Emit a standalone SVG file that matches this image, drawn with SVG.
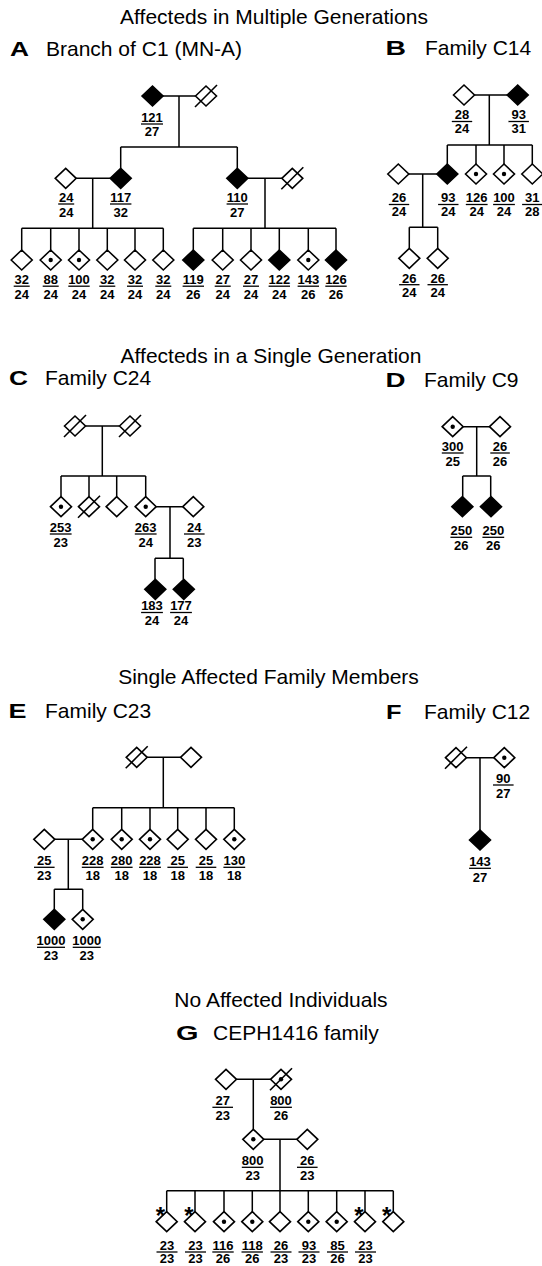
<svg xmlns="http://www.w3.org/2000/svg" xmlns:xlink="http://www.w3.org/1999/xlink" width="542" height="1266" viewBox="0 0 542 1266">
<style>
.t{font-family:"Liberation Sans",Arial,sans-serif;font-size:21px;fill:#000}
.tm{text-anchor:middle}
.pl{font-family:"Liberation Sans",Arial,sans-serif;font-size:20px;font-weight:bold;fill:#000}
.ln{stroke:#000;stroke-width:1.5;fill:none}
.o{fill:#fff;stroke:#000;stroke-width:1.6}
.f{fill:#000;stroke:#000;stroke-width:1.6}
.n{font-family:"Liberation Sans",Arial,sans-serif;font-size:13px;font-weight:bold;text-anchor:middle;fill:#000}
.fl{stroke:#000;stroke-width:1.3;fill:none}
.ast{font-family:"Liberation Sans",Arial,sans-serif;font-size:24px;font-weight:bold;text-anchor:middle;fill:#000}
</style>
<defs>
<path id="dm" d="M-10.5 0L0-10L10.5 0L0 10Z"/>
<g id="dot"><use xlink:href="#dm" href="#dm"/><circle r="2.2" fill="#000" stroke="none"/></g>
<g id="dec"><use xlink:href="#dm" href="#dm"/><path d="M-11 11L11-11" fill="none"/></g>
<g id="decdot"><use xlink:href="#dm" href="#dm"/><circle r="2.2" fill="#000" stroke="none"/><path d="M-11 11L11-11" fill="none"/></g>
</defs>
<rect width="542" height="1266" fill="#fff"/>

<!-- titles -->
<g id="titles">
<text class="t tm" x="274" y="24">Affecteds in Multiple Generations</text>
<text class="t tm" x="271" y="363">Affecteds in a Single Generation</text>
<text class="t tm" x="268.5" y="684">Single Affected Family Members</text>
<text class="t tm" x="281" y="1006.5">No Affected Individuals</text>
<text class="pl" x="10" y="56" textLength="19" lengthAdjust="spacingAndGlyphs">A</text>
<text class="t" x="46" y="56">Branch of C1 (MN-A)</text>
<text class="pl" x="385.5" y="55" textLength="20.5" lengthAdjust="spacingAndGlyphs">B</text>
<text class="t" x="425" y="55">Family C14</text>
<text class="pl" x="9" y="385" textLength="19" lengthAdjust="spacingAndGlyphs">C</text>
<text class="t" x="45" y="385">Family C24</text>
<text class="pl" x="385.5" y="386.5" textLength="20" lengthAdjust="spacingAndGlyphs">D</text>
<text class="t" x="424" y="386.5">Family C9</text>
<text class="pl" x="8.5" y="718.3" textLength="18" lengthAdjust="spacingAndGlyphs">E</text>
<text class="t" x="45" y="718.3">Family C23</text>
<text class="pl" x="386" y="719.3" textLength="15.5" lengthAdjust="spacingAndGlyphs">F</text>
<text class="t" x="424" y="719.3">Family C12</text>
<text class="pl" x="176" y="1040" textLength="22.5" lengthAdjust="spacingAndGlyphs">G</text>
<text class="t" x="213" y="1040">CEPH1416 family</text>
</g>

<!-- connectors -->
<g id="connectors" class="ln">
<!-- A -->
<path d="M163 96H195.5M179 96V147M120.7 147H237.3M120.7 147V168.3M237.3 147V168.3"/>
<path d="M76.2 178.3H110.2M92.7 178.3V228.3M21.7 228.3H163.3M21.7 228.3V250M50.7 228.3V250M79 228.3V250M107.3 228.3V250M135 228.3V250M163.3 228.3V250"/>
<path d="M247.8 178.3H281.8M265 178.3V228.3M193.3 228.3H336M193.3 228.3V250M222.7 228.3V250M251 228.3V250M279.3 228.3V250M308.3 228.3V250M336 228.3V250"/>
<!-- B -->
<path d="M474.5 95H507.2M489.3 95V145M447.3 145H532.3M447.3 145V164M476 145V164M504 145V164M532.3 145V164"/>
<path d="M408.8 174H436.8M422.7 174V227.3M409.3 227.3H437.7M409.3 227.3V248.3M437.7 227.3V248.3"/>
<!-- C -->
<path d="M85.5 426H119.5M102.3 426V476M61 476H145.7M61 476V496.7M89 476V496.7M116.7 476V496.7M145.7 476V496.7"/>
<path d="M156.2 506.7H182.8M170 506.7V558.3M155 558.3H183.3M155 558.3V579.3M183.3 558.3V579.3"/>
<!-- D -->
<path d="M463.2 426.7H489.5M476.7 426.7V476M462.7 476H490.7M462.7 476V496.7M490.7 476V496.7"/>
<!-- E -->
<path d="M147.2 757.3H180.5M163.3 757.3V807.7M92.7 807.7H234.3M92.7 807.7V829.3M121.7 807.7V829.3M150 807.7V829.3M177.7 807.7V829.3M206 807.7V829.3M234.3 807.7V829.3"/>
<path d="M54.8 839.3H82.2M68.3 839.3V889.3M54.3 889.3H82.7M54.3 889.3V909.3M82.7 889.3V909.3"/>
<!-- F -->
<path d="M466.5 757.7H493.8M480 757.7V830"/>
<!-- G -->
<path d="M236.5 1079.3H270.5M253.3 1079.3V1129.3"/>
<path d="M263.8 1139.3H296.8M280 1139.3V1190.7M166.7 1190.7H393.3M166.7 1190.7V1211.7M195 1190.7V1211.7M224 1190.7V1211.7M252.3 1190.7V1211.7M280 1190.7V1211.7M308.3 1190.7V1211.7M336.7 1190.7V1211.7M365 1190.7V1211.7M393.3 1190.7V1211.7"/>
</g>

<!-- Panel A -->
<g id="A-I1"><use href="#dm" class="f" x="152.5" y="96"/><text class="n" x="152" y="121.7">121</text><path class="fl" d="M141 124H163"/><text class="n" x="152" y="135.7">27</text></g>
<g id="A-I2"><use href="#dec" class="o" x="206" y="96"/></g>
<g id="A-II1"><use href="#dm" class="o" x="65.7" y="178.3"/><text class="n" x="66.2" y="201.7">24</text><path class="fl" d="M58.2 204H74.2"/><text class="n" x="66.2" y="216.7">24</text></g>
<g id="A-II2"><use href="#dm" class="f" x="120.7" y="178.3"/><text class="n" x="120.7" y="201.7">117</text><path class="fl" d="M110 204H131.4"/><text class="n" x="120.7" y="216.7">32</text></g>
<g id="A-II3"><use href="#dm" class="f" x="237.3" y="178.3"/><text class="n" x="237.3" y="201.7">110</text><path class="fl" d="M226.6 204H248"/><text class="n" x="237.3" y="216.7">27</text></g>
<g id="A-II4"><use href="#dec" class="o" x="292.3" y="178.3"/></g>
<g id="A-III1"><use href="#dm" class="o" x="21.7" y="260"/><text class="n" x="21.7" y="284">32</text><path class="fl" d="M13.7 286.2H29.7"/><text class="n" x="21.7" y="299">24</text></g>
<g id="A-III2"><use href="#dot" class="o" x="50.7" y="260"/><text class="n" x="50.7" y="284">88</text><path class="fl" d="M42.7 286.2H58.7"/><text class="n" x="50.7" y="299">24</text></g>
<g id="A-III3"><use href="#dot" class="o" x="79" y="260"/><text class="n" x="79" y="284">100</text><path class="fl" d="M68.3 286.2H89.7"/><text class="n" x="79" y="299">24</text></g>
<g id="A-III4"><use href="#dm" class="o" x="107.3" y="260"/><text class="n" x="107.3" y="284">32</text><path class="fl" d="M99.3 286.2H115.3"/><text class="n" x="107.3" y="299">24</text></g>
<g id="A-III5"><use href="#dm" class="o" x="135" y="260"/><text class="n" x="135" y="284">32</text><path class="fl" d="M127 286.2H143"/><text class="n" x="135" y="299">24</text></g>
<g id="A-III6"><use href="#dm" class="o" x="163.3" y="260"/><text class="n" x="163.3" y="284">32</text><path class="fl" d="M155.3 286.2H171.3"/><text class="n" x="163.3" y="299">24</text></g>
<g id="A-III7"><use href="#dm" class="f" x="193.3" y="260"/><text class="n" x="193.3" y="284">119</text><path class="fl" d="M182.6 286.2H204"/><text class="n" x="193.3" y="299">26</text></g>
<g id="A-III8"><use href="#dm" class="o" x="222.7" y="260"/><text class="n" x="222.7" y="284">27</text><path class="fl" d="M214.7 286.2H230.7"/><text class="n" x="222.7" y="299">24</text></g>
<g id="A-III9"><use href="#dm" class="o" x="251" y="260"/><text class="n" x="251" y="284">27</text><path class="fl" d="M243 286.2H259"/><text class="n" x="251" y="299">24</text></g>
<g id="A-III10"><use href="#dm" class="f" x="279.3" y="260"/><text class="n" x="279.3" y="284">122</text><path class="fl" d="M268.6 286.2H290"/><text class="n" x="279.3" y="299">24</text></g>
<g id="A-III11"><use href="#dot" class="o" x="308.3" y="260"/><text class="n" x="308.3" y="284">143</text><path class="fl" d="M297.6 286.2H319"/><text class="n" x="308.3" y="299">26</text></g>
<g id="A-III12"><use href="#dm" class="f" x="336" y="260"/><text class="n" x="336" y="284">126</text><path class="fl" d="M325.3 286.2H346.7"/><text class="n" x="336" y="299">26</text></g>

<!-- Panel B -->
<g id="B-I1"><use href="#dm" class="o" x="464" y="95"/><text class="n" x="462" y="119.3">28</text><path class="fl" d="M451.8 121.5H472.2"/><text class="n" x="462" y="132.7">24</text></g>
<g id="B-I2"><use href="#dm" class="f" x="517.7" y="95"/><text class="n" x="518.7" y="119.3">93</text><path class="fl" d="M508.5 121.5H528.9"/><text class="n" x="518.7" y="132.7">31</text></g>
<g id="B-II1"><use href="#dm" class="o" x="398.3" y="174"/><text class="n" x="399" y="202.3">26</text><path class="fl" d="M388.8 204.5H409.2"/><text class="n" x="399" y="216">24</text></g>
<g id="B-II2"><use href="#dm" class="f" x="447.3" y="174"/><text class="n" x="448.3" y="202.3">93</text><path class="fl" d="M438.1 204.5H458.5"/><text class="n" x="448.3" y="216">24</text></g>
<g id="B-II3"><use href="#dot" class="o" x="476" y="174"/><text class="n" x="476.7" y="202.3">126</text><path class="fl" d="M465.8 204.5H487.6"/><text class="n" x="476.7" y="216">24</text></g>
<g id="B-II4"><use href="#dot" class="o" x="504" y="174"/><text class="n" x="504" y="202.3">100</text><path class="fl" d="M493.1 204.5H514.9"/><text class="n" x="504" y="216">24</text></g>
<g id="B-II5"><use href="#dm" class="o" x="532.3" y="174"/><text class="n" x="532.3" y="202.3">31</text><path class="fl" d="M522.1 204.5H542"/><text class="n" x="532.3" y="216">28</text></g>
<g id="B-III1"><use href="#dm" class="o" x="409.3" y="258.3"/><text class="n" x="409.3" y="282.5">26</text><path class="fl" d="M399.1 284.7H419.5"/><text class="n" x="409.3" y="296.5">24</text></g>
<g id="B-III2"><use href="#dm" class="o" x="437.7" y="258.3"/><text class="n" x="437.7" y="282.5">26</text><path class="fl" d="M427.5 284.7H447.9"/><text class="n" x="437.7" y="296.5">24</text></g>

<!-- Panel C -->
<g id="C-I1"><use href="#dec" class="o" x="75" y="426"/></g>
<g id="C-I2"><use href="#dec" class="o" x="130" y="426"/></g>
<g id="C-II1"><use href="#dot" class="o" x="61" y="506.7"/><text class="n" x="60.7" y="531.7">253</text><path class="fl" d="M49.8 534H71.6"/><text class="n" x="60.7" y="546.7">23</text></g>
<g id="C-II2"><use href="#dec" class="o" x="89" y="506.7"/></g>
<g id="C-II3"><use href="#dm" class="o" x="116.7" y="506.7"/></g>
<g id="C-II4"><use href="#dot" class="o" x="145.7" y="506.7"/><text class="n" x="145.7" y="531.7">263</text><path class="fl" d="M134.8 534H156.6"/><text class="n" x="145.7" y="546.7">24</text></g>
<g id="C-II5"><use href="#dm" class="o" x="193.3" y="506.7"/><text class="n" x="194.3" y="531.7">24</text><path class="fl" d="M184 534H204.6"/><text class="n" x="194.3" y="546.7">23</text></g>
<g id="C-III1"><use href="#dm" class="f" x="155.3" y="589.3"/><text class="n" x="152" y="610.3">183</text><path class="fl" d="M141.1 612.5H162.9"/><text class="n" x="152" y="624.5">24</text></g>
<g id="C-III2"><use href="#dm" class="f" x="183.8" y="589.3"/><text class="n" x="181" y="610.3">177</text><path class="fl" d="M170.1 612.5H191.9"/><text class="n" x="181" y="624.5">24</text></g>

<!-- Panel D -->
<g id="D-I1"><use href="#dot" class="o" x="452.7" y="426.7"/><text class="n" x="452.7" y="450.7">300</text><path class="fl" d="M441.8 453H463.6"/><text class="n" x="452.7" y="466">25</text></g>
<g id="D-I2"><use href="#dm" class="o" x="500" y="426.7"/><text class="n" x="500" y="450.7">26</text><path class="fl" d="M490.3 453H509.7"/><text class="n" x="500" y="466">26</text></g>
<g id="D-II1"><use href="#dm" class="f" x="462.4" y="506.7"/><text class="n" x="461.3" y="535">250</text><path class="fl" d="M450.4 537.3H472.2"/><text class="n" x="461.3" y="550">26</text></g>
<g id="D-II2"><use href="#dm" class="f" x="491" y="506.7"/><text class="n" x="493.3" y="535">250</text><path class="fl" d="M482.4 537.3H504.2"/><text class="n" x="493.3" y="550">26</text></g>

<!-- Panel E -->
<g id="E-I1"><use href="#dec" class="o" x="136.7" y="757.3"/></g>
<g id="E-I2"><use href="#dm" class="o" x="191" y="757.3"/></g>
<g id="E-II1"><use href="#dm" class="o" x="44.3" y="839.3"/><text class="n" x="44.3" y="865">25</text><path class="fl" d="M34 867.3H54.6"/><text class="n" x="44.3" y="880">23</text></g>
<g id="E-II2"><use href="#dot" class="o" x="92.7" y="839.3"/><text class="n" x="92.7" y="865">228</text><path class="fl" d="M81.8 867.3H103.6"/><text class="n" x="92.7" y="880">18</text></g>
<g id="E-II3"><use href="#dot" class="o" x="121.7" y="839.3"/><text class="n" x="121.7" y="865">280</text><path class="fl" d="M110.8 867.3H132.6"/><text class="n" x="121.7" y="880">18</text></g>
<g id="E-II4"><use href="#dot" class="o" x="150" y="839.3"/><text class="n" x="150" y="865">228</text><path class="fl" d="M139.1 867.3H160.9"/><text class="n" x="150" y="880">18</text></g>
<g id="E-II5"><use href="#dm" class="o" x="177.7" y="839.3"/><text class="n" x="177.7" y="865">25</text><path class="fl" d="M167.4 867.3H188"/><text class="n" x="177.7" y="880">18</text></g>
<g id="E-II6"><use href="#dm" class="o" x="206" y="839.3"/><text class="n" x="206" y="865">25</text><path class="fl" d="M195.7 867.3H216.3"/><text class="n" x="206" y="880">18</text></g>
<g id="E-II7"><use href="#dot" class="o" x="234.3" y="839.3"/><text class="n" x="234.3" y="865">130</text><path class="fl" d="M223.4 867.3H245.2"/><text class="n" x="234.3" y="880">18</text></g>
<g id="E-III1"><use href="#dm" class="f" x="54.3" y="919.3"/><text class="n" x="51" y="945">1000</text><path class="fl" d="M37 947.3H65"/><text class="n" x="51" y="960">23</text></g>
<g id="E-III2"><use href="#dot" class="o" x="82.7" y="919.3"/><text class="n" x="86.7" y="945">1000</text><path class="fl" d="M72.7 947.3H100.7"/><text class="n" x="86.7" y="960">23</text></g>

<!-- Panel F -->
<g id="F-I1"><use href="#dec" class="o" x="456" y="757.7"/></g>
<g id="F-I2"><use href="#dot" class="o" x="504.3" y="757.7"/><text class="n" x="503.3" y="782.7">90</text><path class="fl" d="M493 785H513.6"/><text class="n" x="503.3" y="798.3">27</text></g>
<g id="F-II1"><use href="#dm" class="f" x="480" y="840"/><text class="n" x="480" y="866">143</text><path class="fl" d="M469.1 868.3H490.9"/><text class="n" x="480" y="881.7">27</text></g>

<!-- Panel G -->
<g id="G-I1"><use href="#dm" class="o" x="226" y="1079.3"/><text class="n" x="222.7" y="1105">27</text><path class="fl" d="M212.4 1107.3H233"/><text class="n" x="222.7" y="1120">23</text></g>
<g id="G-I2"><use href="#decdot" class="o" x="281" y="1079.3"/><text class="n" x="281" y="1105">800</text><path class="fl" d="M270.1 1107.3H291.9"/><text class="n" x="281" y="1120">26</text></g>
<g id="G-II1"><use href="#dot" class="o" x="253.3" y="1139.3"/><text class="n" x="252.7" y="1165">800</text><path class="fl" d="M241.8 1167.3H263.6"/><text class="n" x="252.7" y="1180">23</text></g>
<g id="G-II2"><use href="#dm" class="o" x="307.3" y="1139.3"/><text class="n" x="307.3" y="1165">26</text><path class="fl" d="M297 1167.3H317.6"/><text class="n" x="307.3" y="1180">23</text></g>
<g id="G-III1"><use href="#dm" class="o" x="166.7" y="1221.7"/><text class="ast" x="160.5" y="1224">*</text><text class="n" x="167" y="1250">23</text><path class="fl" d="M156.5 1252H177.5"/><text class="n" x="167" y="1262.7">23</text></g>
<g id="G-III2"><use href="#dm" class="o" x="195" y="1221.7"/><text class="ast" x="188.8" y="1224">*</text><text class="n" x="195.5" y="1250">23</text><path class="fl" d="M185 1252H206"/><text class="n" x="195.5" y="1262.7">23</text></g>
<g id="G-III3"><use href="#dot" class="o" x="224" y="1221.7"/><text class="n" x="223" y="1250">116</text><path class="fl" d="M212.3 1252H233.7"/><text class="n" x="223" y="1262.7">26</text></g>
<g id="G-III4"><use href="#dot" class="o" x="252.3" y="1221.7"/><text class="n" x="252.2" y="1250">118</text><path class="fl" d="M241.5 1252H262.9"/><text class="n" x="252.2" y="1262.7">26</text></g>
<g id="G-III5"><use href="#dm" class="o" x="280" y="1221.7"/><text class="n" x="281" y="1250">26</text><path class="fl" d="M270.5 1252H291.5"/><text class="n" x="281" y="1262.7">23</text></g>
<g id="G-III6"><use href="#dot" class="o" x="308.3" y="1221.7"/><text class="n" x="309" y="1250">93</text><path class="fl" d="M298.5 1252H319.5"/><text class="n" x="309" y="1262.7">23</text></g>
<g id="G-III7"><use href="#dot" class="o" x="336.7" y="1221.7"/><text class="n" x="337.5" y="1250">85</text><path class="fl" d="M327 1252H348"/><text class="n" x="337.5" y="1262.7">26</text></g>
<g id="G-III8"><use href="#dm" class="o" x="365" y="1221.7"/><text class="ast" x="358.8" y="1224">*</text><text class="n" x="365.5" y="1250">23</text><path class="fl" d="M355 1252H376"/><text class="n" x="365.5" y="1262.7">23</text></g>
<g id="G-III9"><use href="#dm" class="o" x="393.3" y="1221.7"/><text class="ast" x="386.7" y="1224">*</text></g>
</svg>
